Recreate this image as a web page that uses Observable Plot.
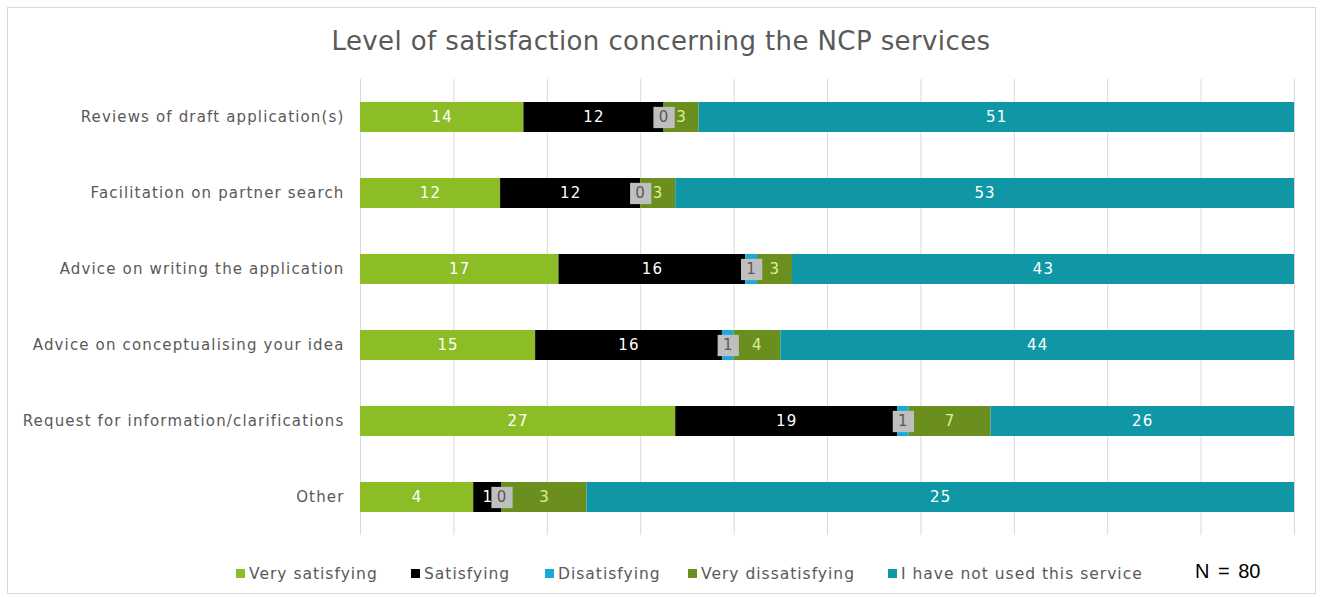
<!DOCTYPE html>
<html>
<head>
<meta charset="utf-8">
<script src="https://cdn.jsdelivr.net/npm/d3@7"></script>
<script src="https://cdn.jsdelivr.net/npm/@observablehq/plot@0.6"></script>
<style>
  body { margin: 0; background: #fff; font-family: "DejaVu Sans", Verdana, sans-serif; }
  #frame { position: absolute; left: 7px; top: 7px; width: 1307px; height: 585px; border: 1px solid #d9d9d9; }
  #title { position: absolute; left: 0; top: 26px; width: 1322px; text-align: center; font-size: 26px; letter-spacing: 0.4px; color: #595959; }
  #chart { position: absolute; left: 0; top: 70px; }
  .leg { position: absolute; top: 565px; font-size: 15.5px; letter-spacing: 1px; color: #595959; white-space: nowrap; }
  .sw { display: inline-block; width: 9px; height: 9px; margin-right: 4px; vertical-align: 1px; }
  #n { position: absolute; left: 1195px; top: 560px; font-size: 20px; word-spacing: 3px; color: #000; font-family: "Liberation Sans", Arial, sans-serif; }
</style>
</head>
<body>
<div id="frame"></div>
<div id="title">Level of satisfaction concerning the NCP services</div>
<div id="chart"></div>
<div id="legend"></div>
<div id="n">N = 80</div>
<script>
const categories = [
  "Reviews of draft application(s)",
  "Facilitation on partner search",
  "Advice on writing the application",
  "Advice on conceptualising your idea",
  "Request for information/clarifications",
  "Other"
];
const series = ["Very satisfying", "Satisfying", "Disatisfying", "Very dissatisfying", "I have not used this service"];
const verySatisfying    = [14, 12, 17, 15, 27, 4];
const satisfying        = [12, 12, 16, 16, 19, 1];
const disatisfying      = [0, 0, 1, 1, 1, 0];
const veryDissatisfying = [3, 3, 3, 4, 7, 3];
const notUsed           = [51, 53, 43, 44, 26, 25];
const colors = ["#8cbd26", "#000000", "#1ba9d9", "#6b8f1f", "#1097a6"];
const labelColors = ["#ffffff", "#ffffff", "#595959", "#dcef93", "#ffffff"];
const legendX = [236, 411, 545, 688, 888];

const columns = [verySatisfying, satisfying, disatisfying, veryDissatisfying, notUsed];
const rows = [];
categories.forEach((c, i) => {
  const total = d3.sum(columns, col => col[i]);
  let acc = 0;
  series.forEach((s, j) => {
    const v = columns[j][i];
    const x1 = acc / total, x2 = (acc + v) / total;
    acc += v;
    rows.push({category: c, series: s, value: v, x1, x2, mid: (x1 + x2) / 2, si: j});
  });
});

const gridTicks = d3.range(0, 11).map(d => d / 10);

const chart = Plot.plot({
  width: 1322,
  height: 480,
  marginLeft: 360,
  marginRight: 28,
  marginTop: 9,
  marginBottom: 15,
  style: {fontFamily: "DejaVu Sans, Verdana, sans-serif", fontSize: "15px", letterSpacing: "1.15px", color: "#595959", background: "transparent"},
  x: {domain: [0, 1], axis: null},
  y: {domain: categories, padding: 0, tickSize: 0, tickPadding: 16, label: null},
  color: {domain: series, range: colors},
  marks: [
    Plot.ruleX(gridTicks, {stroke: "#d9d9d9", strokeWidth: 1}),
    Plot.barX(rows, {x1: "x1", x2: "x2", y: "category", fill: "series", insetTop: 23, insetBottom: 23}),
    Plot.dot(rows.filter(d => d.si === 2), {x: "mid", y: "category", symbol: "square", r: 12, fill: "#bfbfbf"}),
    Plot.text(rows.filter(d => d.si !== 2), {x: "mid", y: "category", text: d => String(d.value), fill: d => labelColors[d.si], fontSize: 15}),
    Plot.text(rows.filter(d => d.si === 2), {x: "mid", y: "category", text: d => String(d.value), fill: "#595959", fontSize: 15})
  ]
});
document.getElementById("chart").appendChild(chart);

const legend = document.getElementById("legend");
series.forEach((s, j) => {
  const el = document.createElement("div");
  el.className = "leg";
  el.style.left = legendX[j] + "px";
  el.innerHTML = `<span class="sw" style="background:${colors[j]}"></span>${s}`;
  legend.appendChild(el);
});
</script>
</body>
</html>
